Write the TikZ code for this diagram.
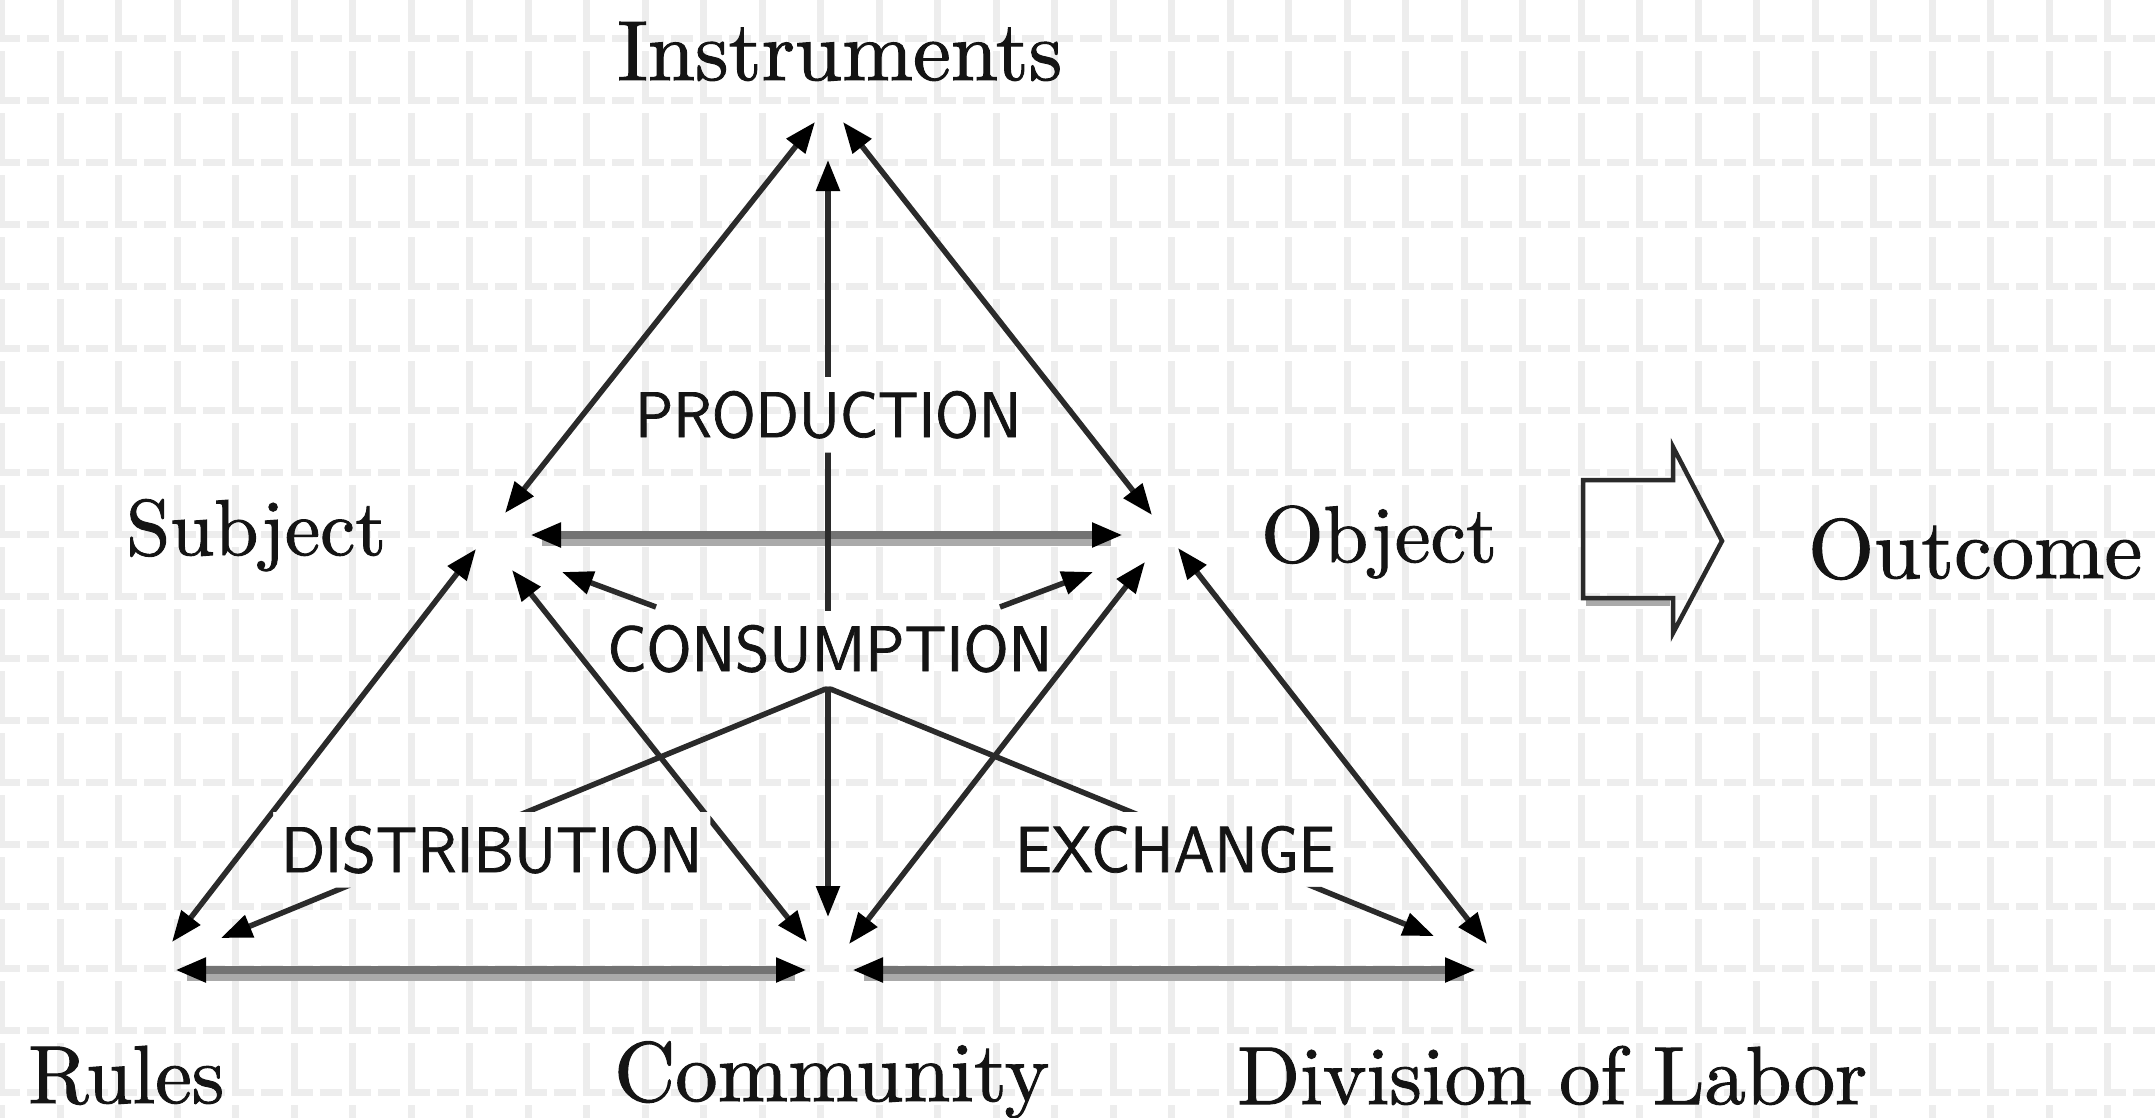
\documentclass[tikz,border=0pt]{standalone}
\usepackage{fontspec}
\newfontfamily\lblserif{lmroman10-regular.otf}[FakeBold=1.2]
\newfontfamily\lblsans{lmsans10-regular.otf}[FakeBold=1.2]
\usetikzlibrary{arrows.meta,calc}
\definecolor{gridC}{RGB}{237,237,237}
\definecolor{lineC}{RGB}{42,42,42}
\definecolor{hlineC}{RGB}{115,115,115}
\definecolor{hshadeC}{RGB}{170,170,170}
\definecolor{txtC}{RGB}{20,20,20}
\tikzset{
  gridh/.style={draw=gridC, line width=7pt, dash pattern=on 22pt off 7.25pt},
  gridv/.style={draw=gridC, line width=7pt, dash pattern=on 53pt off 9pt},
  ln/.style={line width=5.5pt, draw=lineC},
  tipA/.tip={Triangle[length=31pt,width=23pt,color=black]},
  both/.style={ln, tipA-tipA},
  one/.style={ln, -tipA},
  hln/.style={line width=8pt, draw=hlineC, tipA-tipA},
  hshade/.style={line width=7pt, draw=hshadeC},
  namelbl/.style={anchor=base west, inner sep=0pt, text=txtC, font=\lblserif\fontsize{83pt}{90pt}\selectfont},
  capslbl/.style={anchor=base west, inner sep=0pt, text=txtC, font=\lblsans\fontsize{60pt}{66pt}\selectfont},
}
\begin{document}
\begin{tikzpicture}[x=1pt,y=-1pt]
\useasboundingbox (0,0) rectangle (2155,1117);
\fill[white] (0,0) rectangle (2155,1117);
% grid
\foreach \k in {0,...,17} \draw[gridh] (-2,{38.5+62*\k}) -- (2160,{38.5+62*\k});
\foreach \j in {0,...,36} \draw[gridv] ({1.5+58.5*\j},-11) -- ({1.5+58.5*\j},1130);

% labels
\node[namelbl] (instr) at (617,80) {\resizebox{445pt}{!}{Instruments}};
\node[namelbl] (subj) at (126,555) {\resizebox{260pt}{!}{Subject}};
\node[namelbl] (obj) at (1261,562) {\resizebox{236pt}{!}{Object}};
\node[namelbl] (outc) at (1808,578) {\resizebox{334pt}{!}{Outcome}};
\node[namelbl] (rules) at (28,1103) {\resizebox{196pt}{!}{Rules}};
\node[namelbl] (comm) at (614,1101) {\resizebox{435pt}{!}{Community}};
\node[namelbl] (divl) at (1237,1104) {\resizebox{630pt}{!}{Division of Labor}};
\node[capslbl] (prod) at (635,437) {\resizebox{386pt}{46pt}{PRODUCTION}};
\node[capslbl] (cons) at (607,671) {\resizebox{445pt}{46pt}{CONSUMPTION}};
\node[capslbl] (dist) at (281,872) {\resizebox{421pt}{46pt}{DISTRIBUTION}};
\node[capslbl] (exch) at (1015,872) {\resizebox{320pt}{46pt}{EXCHANGE}};

% end points of connectors
\coordinate (iL) at (815,122);
\coordinate (iR) at (843,122);
\coordinate (iC) at (828,160);
\coordinate (sI) at (505,513);
\coordinate (oI) at (1152,515);
\coordinate (sO) at (530,535);
\coordinate (oS) at (1123,535);
\coordinate (sR) at (476,549);
\coordinate (rS) at (172,942);
\coordinate (sC) at (512,570);
\coordinate (cS) at (807,942);
\coordinate (oC) at (1145,562);
\coordinate (cO) at (849,944);
\coordinate (oD) at (1178,548);
\coordinate (dO) at (1487,944);
\coordinate (rC) at (175,970);
\coordinate (cR) at (807,970);
\coordinate (cD) at (852,970);
\coordinate (dC) at (1476,970);
\coordinate (cI) at (828,917);
\coordinate (consL) at (656,607);
\coordinate (sCons) at (562,572);
\coordinate (consR) at (1000,607);
\coordinate (oCons) at (1093,572);
\coordinate (consB) at (828,688);
\coordinate (rCons) at (221,938);
\coordinate (dCons) at (1434,936);

% horizontal connectors
\draw[hshade] ($(sO)+(12,7.5)$) -- ($(oS)+(-12,7.5)$);
\draw[hln] (sO) -- (oS);
\draw[hshade] ($(rC)+(12,7.5)$) -- ($(cR)+(-12,7.5)$);
\draw[hln] (rC) -- (cR);
\draw[hshade] ($(cD)+(12,7.5)$) -- ($(dC)+(-12,7.5)$);
\draw[hln] (cD) -- (dC);

\begin{scope}[even odd rule]
\clip (-10,-10) rectangle (2165,1127)
  ([shift={(-8pt,-14pt)}]prod.south west) rectangle ([shift={(8pt,14pt)}]prod.north east)
  ([shift={(-40pt,-14pt)}]cons.south) rectangle ([shift={(40pt,14pt)}]cons.north)
  ([shift={(-8pt,-14pt)}]dist.south west) rectangle ([shift={(8pt,14pt)}]dist.north east)
  ([shift={(-8pt,-14pt)}]exch.south west) rectangle ([shift={(8pt,14pt)}]exch.north east);
\draw[both] (iL) -- (sI);
\draw[both] (iR) -- (oI);
\draw[both] (iC) -- (cI);
\draw[both] (sR) -- (rS);
\draw[both] (sC) -- (cS);
\draw[both] (oC) -- (cO);
\draw[both] (oD) -- (dO);
\draw[one] (consL) -- (sCons);
\draw[one] (consR) -- (oCons);
\draw[one] (consB) -- (rCons);
\draw[one] (consB) -- (dCons);
\end{scope}

% outcome block arrow
\draw[hshade, line width=6pt] (1586,603) -- (1670,603);
\draw[line width=4.5pt, draw=lineC, line join=miter]
  (1583,480) -- (1673,480) -- (1673,447) -- (1722,541) -- (1673,633) -- (1673,598) -- (1583,598) -- cycle;
\end{tikzpicture}
\end{document}
